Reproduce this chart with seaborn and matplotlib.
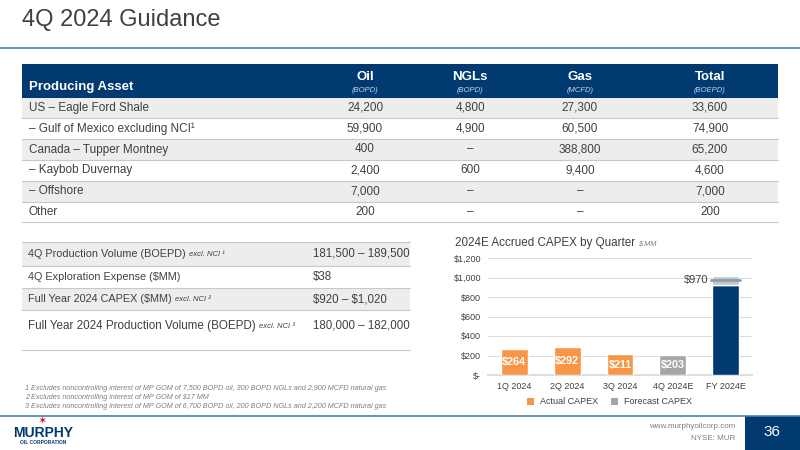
import numpy as np
import pandas as pd
import matplotlib
matplotlib.use("Agg")
import matplotlib.pyplot as plt
import seaborn as sns
from matplotlib.patches import Rectangle

# ---- data ----
assets = ["US \u2013 Eagle Ford Shale", "\u2013 Gulf of Mexico excluding NCI\u00b9",
          "Canada \u2013 Tupper Montney", "\u2013 Kaybob Duvernay", "\u2013 Offshore", "Other"]
oil = ["24,200", "59,900", "400", "2,400", "7,000", "200"]
ngls = ["4,800", "4,900", "\u2013", "600", "\u2013", "\u2013"]
gas = ["27,300", "60,500", "388,800", "9,400", "\u2013", "\u2013"]
total = ["33,600", "74,900", "65,200", "4,600", "7,000", "200"]
col_names = ["Oil", "NGLs", "Gas", "Total"]
col_units = ["(BOPD)", "(BOPD)", "(MCFD)", "(BOEPD)"]

guide_items = ["4Q Production Volume (BOEPD)", "4Q Exploration Expense ($MM)",
               "Full Year 2024 CAPEX ($MM)", "Full Year 2024 Production Volume (BOEPD)"]
guide_notes = ["excl. NCI \u00b9", "", "excl. NCI \u00b2", "excl. NCI \u00b3"]
guide_values = ["181,500 \u2013 189,500", "$38", "$920 \u2013 $1,020", "180,000 \u2013 182,000"]

quarters = ["1Q 2024", "2Q 2024", "3Q 2024", "4Q 2024E", "FY 2024E"]
capex = [264, 292, 211, 203, 920]
capex_type = ["Actual CAPEX", "Actual CAPEX", "Actual CAPEX", "Forecast CAPEX", "FY"]
fy_low, fy_high, fy_mid = 920, 1020, 970

footnotes = ["1 Excludes noncontrolling interest of MP GOM of 7,500 BOPD oil, 300 BOPD NGLs and 2,900 MCFD natural gas",
             "2 Excludes noncontrolling interest of MP GOM of $17 MM",
             "3 Excludes noncontrolling interest of MP GOM of 6,700 BOPD oil, 200 BOPD NGLs and 2,200 MCFD natural gas"]

NAVY = "#003a70"
ORANGE = "#f79646"
GRAY = "#a6a6a6"
TXT = "#404040"
ROWBG = "#ededed"
LINE = "#c8c8c8"
BLUE_LINE = "#4f7fab"

sns.set_theme(style="white")
plt.rcParams['font.family'] = ['Liberation Sans', 'DejaVu Sans']
plt.rcParams['text.parse_math'] = False

fig = plt.figure(figsize=(8, 4.5), dpi=100)
W, H = 800, 450
renderer = fig.canvas.get_renderer()


def px(x, y):
    return x / W, 1 - y / H


def ftext(x, y, s, **kw):
    fx, fy = px(x, y)
    return fig.text(fx, fy, s, **kw)


def frect(x0, y0, x1, y1, color, z=0):
    fx0, fy1 = px(x0, y1)
    fig.patches.append(Rectangle((fx0, fy1), (x1 - x0) / W, (y1 - y0) / H,
                                 transform=fig.transFigure, color=color, zorder=z, lw=0))


def fhline(x0, x1, y, color, lw=0.8):
    fig.add_artist(plt.Line2D([x0 / W, x1 / W], [1 - y / H, 1 - y / H],
                              transform=fig.transFigure, color=color, lw=lw))


# title
ftext(22, 20, "4Q 2024 Guidance", fontsize=17, color=TXT, va="center")
fhline(0, W, 48, BLUE_LINE, lw=1.2)

# ---- top table ----
frect(22, 64, 778, 97.5, NAVY)
ftext(29, 87, "Producing Asset", fontsize=9.5, color="white", weight="bold", va="center")
col_x = [365, 470, 580, 710]
for cx, name, unit in zip(col_x, col_names, col_units):
    ftext(cx, 77.5, name, fontsize=9.5, color="white", weight="bold", ha="center", va="center")
    ftext(cx, 90.5, unit, fontsize=5.5, color="#c9d4e3", style="italic", ha="center", va="center")
row_top = 97.5
row_h = 20.8
for i, a in enumerate(assets):
    y0 = row_top + i * row_h
    if i % 2 == 0:
        frect(22, y0, 778, y0 + row_h, ROWBG)
    fhline(22, 778, y0 + row_h, LINE)
    yc = y0 + row_h / 2
    ftext(29, yc, a, fontsize=8.5, color=TXT, va="center")
    for cx, vals in zip(col_x, [oil, ngls, gas, total]):
        ftext(cx, yc, vals[i], fontsize=8.5, color=TXT, ha="center", va="center")

# ---- guidance table ----
g_edges = [242, 266, 288, 310, 350]
g_sizes = [7.8, 7.8, 7.8, 8.4]
fhline(22, 410, g_edges[0], LINE)
for i, item in enumerate(guide_items):
    y0, y1 = g_edges[i], g_edges[i + 1]
    if i % 2 == 0:
        frect(22, y0, 410, y1, ROWBG)
    fhline(22, 410, y1, LINE)
    yc = (y0 + y1) / 2 if i < 3 else 326
    t = ftext(28, yc, item, fontsize=g_sizes[i], color=TXT, va="center")
    if guide_notes[i]:
        bb = t.get_window_extent(renderer)
        ftext(bb.x1 + 3, yc + 0.5, guide_notes[i], fontsize=5.5, color=TXT, style="italic", va="center")
    ftext(313, yc, guide_values[i], fontsize=8.3, color=TXT, va="center")

# footnotes
for i, f in enumerate(footnotes):
    ftext(25, 388 + i * 9.3, f, fontsize=5.2, color="#7f7f7f", style="italic", va="center")

# ---- CAPEX chart ----
t = ftext(455, 243, "2024E Accrued CAPEX by Quarter", fontsize=8.4, color=TXT, va="center")
bb = t.get_window_extent(renderer)
ftext(bb.x1 + 3, 244, "$ MM", fontsize=5.3, color="#7f7f7f", style="italic", va="center")

df = pd.DataFrame({"quarter": quarters, "capex": capex, "type": capex_type})
ax = fig.add_axes([488 / W, 1 - 375 / H, (752 - 488) / W, (375 - 258) / H])
sns.barplot(data=df, x="quarter", y="capex", hue="type", dodge=False, width=0.51,
            palette={"Actual CAPEX": ORANGE, "Forecast CAPEX": GRAY, "FY": NAVY},
            saturation=1, legend=False, ax=ax, zorder=3)
fy_i = quarters.index("FY 2024E")
ax.bar(fy_i, fy_high - fy_low, bottom=fy_low, width=0.51, color="#b9c9dd", zorder=3)
ax.plot([fy_i - 0.28, fy_i + 0.28], [fy_mid, fy_mid], color="#9a9a9a", lw=2, zorder=4)
ax.text(fy_i - 0.32, fy_mid, f"${fy_mid}", ha="right", va="center", fontsize=8, color=TXT)
for i, v in enumerate(capex[:4]):
    ax.text(i, v / 2, f"${v}", ha="center", va="center", fontsize=7.8, color="white", weight="bold", zorder=5)

ax.set_ylim(0, 1200)
ax.set_yticks(range(0, 1201, 200))
ax.set_yticklabels(["$-"] + [f"${v:,}" for v in range(200, 1201, 200)])
ax.set_xlim(-0.5, 4.5)
ax.set_xlabel("")
ax.set_ylabel("")
ax.yaxis.grid(True, color="#d9d9d9", lw=0.7, zorder=0)
ax.set_axisbelow(True)
ax.tick_params(axis="both", labelsize=6.5, colors=TXT, length=0, pad=5)
for s in ["top", "right", "left"]:
    ax.spines[s].set_visible(False)
ax.spines["bottom"].set_color("#d9d9d9")

# legend
frect(527, 398, 534, 405, ORANGE)
ftext(540, 401.5, "Actual CAPEX", fontsize=6.5, color=TXT, va="center")
frect(611, 398, 618, 405, GRAY)
ftext(624, 401.5, "Forecast CAPEX", fontsize=6.5, color=TXT, va="center")

# ---- footer ----
fhline(0, W, 416, BLUE_LINE, lw=1.2)
frect(745, 416, 800, 450, NAVY)
ftext(772, 432, "36", fontsize=11, color="white", ha="center", va="center")
ftext(735, 427, "www.murphyoilcorp.com", fontsize=5.8, color="#7f7f7f", ha="right", va="center")
ftext(735, 439, "NYSE: MUR", fontsize=5.8, color="#7f7f7f", ha="right", va="center")
ftext(43, 421, "\u2736", fontsize=8, color="#c8202f", ha="center", va="center")
ftext(43, 433, "MURPHY", fontsize=10, color=NAVY, weight="bold", ha="center", va="center")
ftext(43, 442, "OIL CORPORATION", fontsize=3.5, color=NAVY, weight="bold", ha="center", va="center")

fig.savefig("out.png", dpi=100)
